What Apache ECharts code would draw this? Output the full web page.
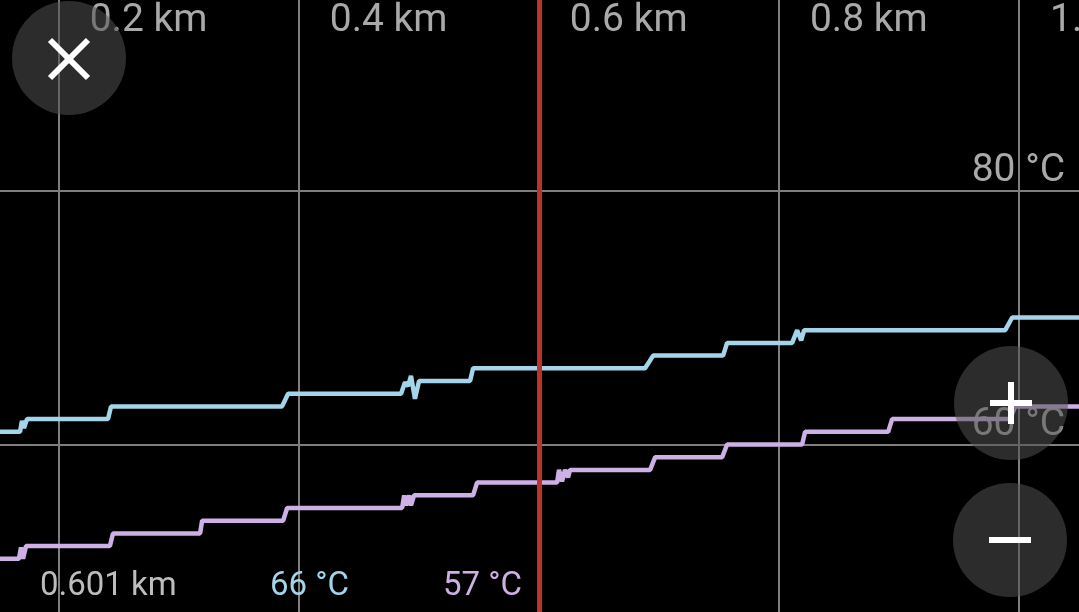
<!DOCTYPE html>
<html>
<head>
<meta charset="utf-8">
<script src="https://cdn.jsdelivr.net/npm/echarts@6/dist/echarts.min.js"></script>
<style>
html,body{margin:0;padding:0;background:#000;}
#c{width:1079px;height:612px;}
</style>
</head>
<body>
<div id="c"></div>
<script>
// ---- data ----
const blueKm   = [0.14, 0.1678, 0.1694, 0.1711, 0.1736, 0.2411, 0.2436, 0.3861, 0.3911, 0.4852, 0.4885, 0.4910, 0.4935, 0.4968, 0.5002, 0.5427, 0.5452, 0.6885, 0.6952, 0.7535, 0.7568, 0.8110, 0.8152, 0.8185, 0.8210, 0.9885, 0.9943, 1.06];
const blueTemp = [61,   61,     61.85,  61.3,   62,     62,     63,     63,     64,     64,     64.9,   64.6,   65.4,   63.6,   65,     65,     66,     66,     67,     67,     68,     68,     69,     68.2,   69,     69,     70,     70];

const purpleKm   = [0.14, 0.1669, 0.1686, 0.1703, 0.1728, 0.2427, 0.2452, 0.3178, 0.3195, 0.3870, 0.3903, 0.4861, 0.4878, 0.4894, 0.4919, 0.4935, 0.4960, 0.5452, 0.5485, 0.6152, 0.6168, 0.6193, 0.6218, 0.6243, 0.6260, 0.6927, 0.6969, 0.7527, 0.7568, 0.8193, 0.8218, 0.8910, 0.8943, 0.9926, 0.9968, 1.06];
const purpleTemp = [51,   51,     51.9,   51,     52,     52,     53,     53,     54,     54,     55,     55,     56,     55.2,   56,     55.2,   56,     56,     57,     57,     58,     57.1,   58,     57.4,   58,     58,     59,     59,     60,     60,     61,     61,     62,     62,     63,     63];

const cursorKm = 0.601;
const readoutTexts = ['0.601 km', '66 °C', '57 °C'];

const xMin = 0, xMax = 1.2, xStep = 0.2;
const yMin = 40, yMax = 100, yStep = 20;

// ---- chart ----
const pairs = (xs, ys) => xs.map((x, i) => [x, ys[i]]);
const FONT = 'Roboto, "Noto Sans", sans-serif';
const LABEL_GRAY = '#a9a9a9';
const BLUE = '#a3d4ea';
const PURPLE = '#cdb0e5';

const chart = echarts.init(document.getElementById('c'), null, {renderer: 'canvas'});
chart.setOption({
  backgroundColor: '#000',
  animation: false,
  grid: {left: -181.4, right: -180.1, top: -63.5, bottom: -86.5, containLabel: false, outerBoundsMode: 'none'},
  xAxis: {
    type: 'value', position: 'top', min: xMin, max: xMax, interval: xStep,
    axisLine: {show: false}, axisTick: {show: false},
    splitLine: {show: true, lineStyle: {color: '#7e7e7e', width: 2}},
    axisLabel: {
      inside: true, margin: 85, align: 'left', verticalAlign: 'middle',
      padding: [0, 0, 0, 31],
      color: LABEL_GRAY, fontSize: 39, fontFamily: FONT,
      formatter: v => v.toFixed(1) + ' km'
    }
  },
  yAxis: {
    type: 'value', position: 'right', min: yMin, max: yMax, interval: yStep,
    axisLine: {show: false}, axisTick: {show: false},
    splitLine: {show: true, lineStyle: {color: '#7e7e7e', width: 2}},
    axisLabel: {
      inside: true, margin: 194, align: 'right', verticalAlign: 'bottom',
      color: LABEL_GRAY, fontSize: 39, fontFamily: FONT,
      formatter: v => v + ' °C'
    }
  },
  series: [
    {
      type: 'line', data: pairs(blueKm, blueTemp), showSymbol: false, symbol: 'none',
      lineStyle: {color: BLUE, width: 4.5}, z: 3
    },
    {
      type: 'line', data: pairs(purpleKm, purpleTemp), showSymbol: false, symbol: 'none',
      lineStyle: {color: PURPLE, width: 4.5}, z: 3,
      markLine: {
        silent: true, symbol: ['none', 'none'], label: {show: false},
        lineStyle: {color: '#be3329', width: 5, type: 'solid'},
        data: [{xAxis: cursorKm}], z: 5
      }
    }
  ],
  graphic: [
    // readouts
    {type: 'text', left: 40, top: 570, z: 20, style: {text: readoutTexts[0], fill: '#bdbdbd', font: '33px ' + FONT}},
    {type: 'text', left: 270, top: 570, z: 20, style: {text: readoutTexts[1], fill: BLUE, font: '33px ' + FONT}},
    {type: 'text', left: 443, top: 570, z: 20, style: {text: readoutTexts[2], fill: PURPLE, font: '33px ' + FONT}},
    // close button
    {type: 'circle', shape: {cx: 69, cy: 58, r: 57}, z: 30, style: {fill: 'rgba(80,80,80,0.55)'}},
    {type: 'line', shape: {x1: 50, y1: 40, x2: 88, y2: 78}, z: 31, style: {stroke: '#fff', lineWidth: 6}},
    {type: 'line', shape: {x1: 88, y1: 40, x2: 50, y2: 78}, z: 31, style: {stroke: '#fff', lineWidth: 6}},
    // zoom in
    {type: 'circle', shape: {cx: 1011, cy: 403, r: 57}, z: 30, style: {fill: 'rgba(80,80,80,0.55)'}},
    {type: 'line', shape: {x1: 990, y1: 403, x2: 1032, y2: 403}, z: 31, style: {stroke: '#fff', lineWidth: 6}},
    {type: 'line', shape: {x1: 1011, y1: 382, x2: 1011, y2: 424}, z: 31, style: {stroke: '#fff', lineWidth: 6}},
    // zoom out
    {type: 'circle', shape: {cx: 1010, cy: 540, r: 57}, z: 30, style: {fill: 'rgba(80,80,80,0.55)'}},
    {type: 'line', shape: {x1: 989, y1: 540, x2: 1031, y2: 540}, z: 31, style: {stroke: '#fff', lineWidth: 6}}
  ]
});
</script>
</body>
</html>
